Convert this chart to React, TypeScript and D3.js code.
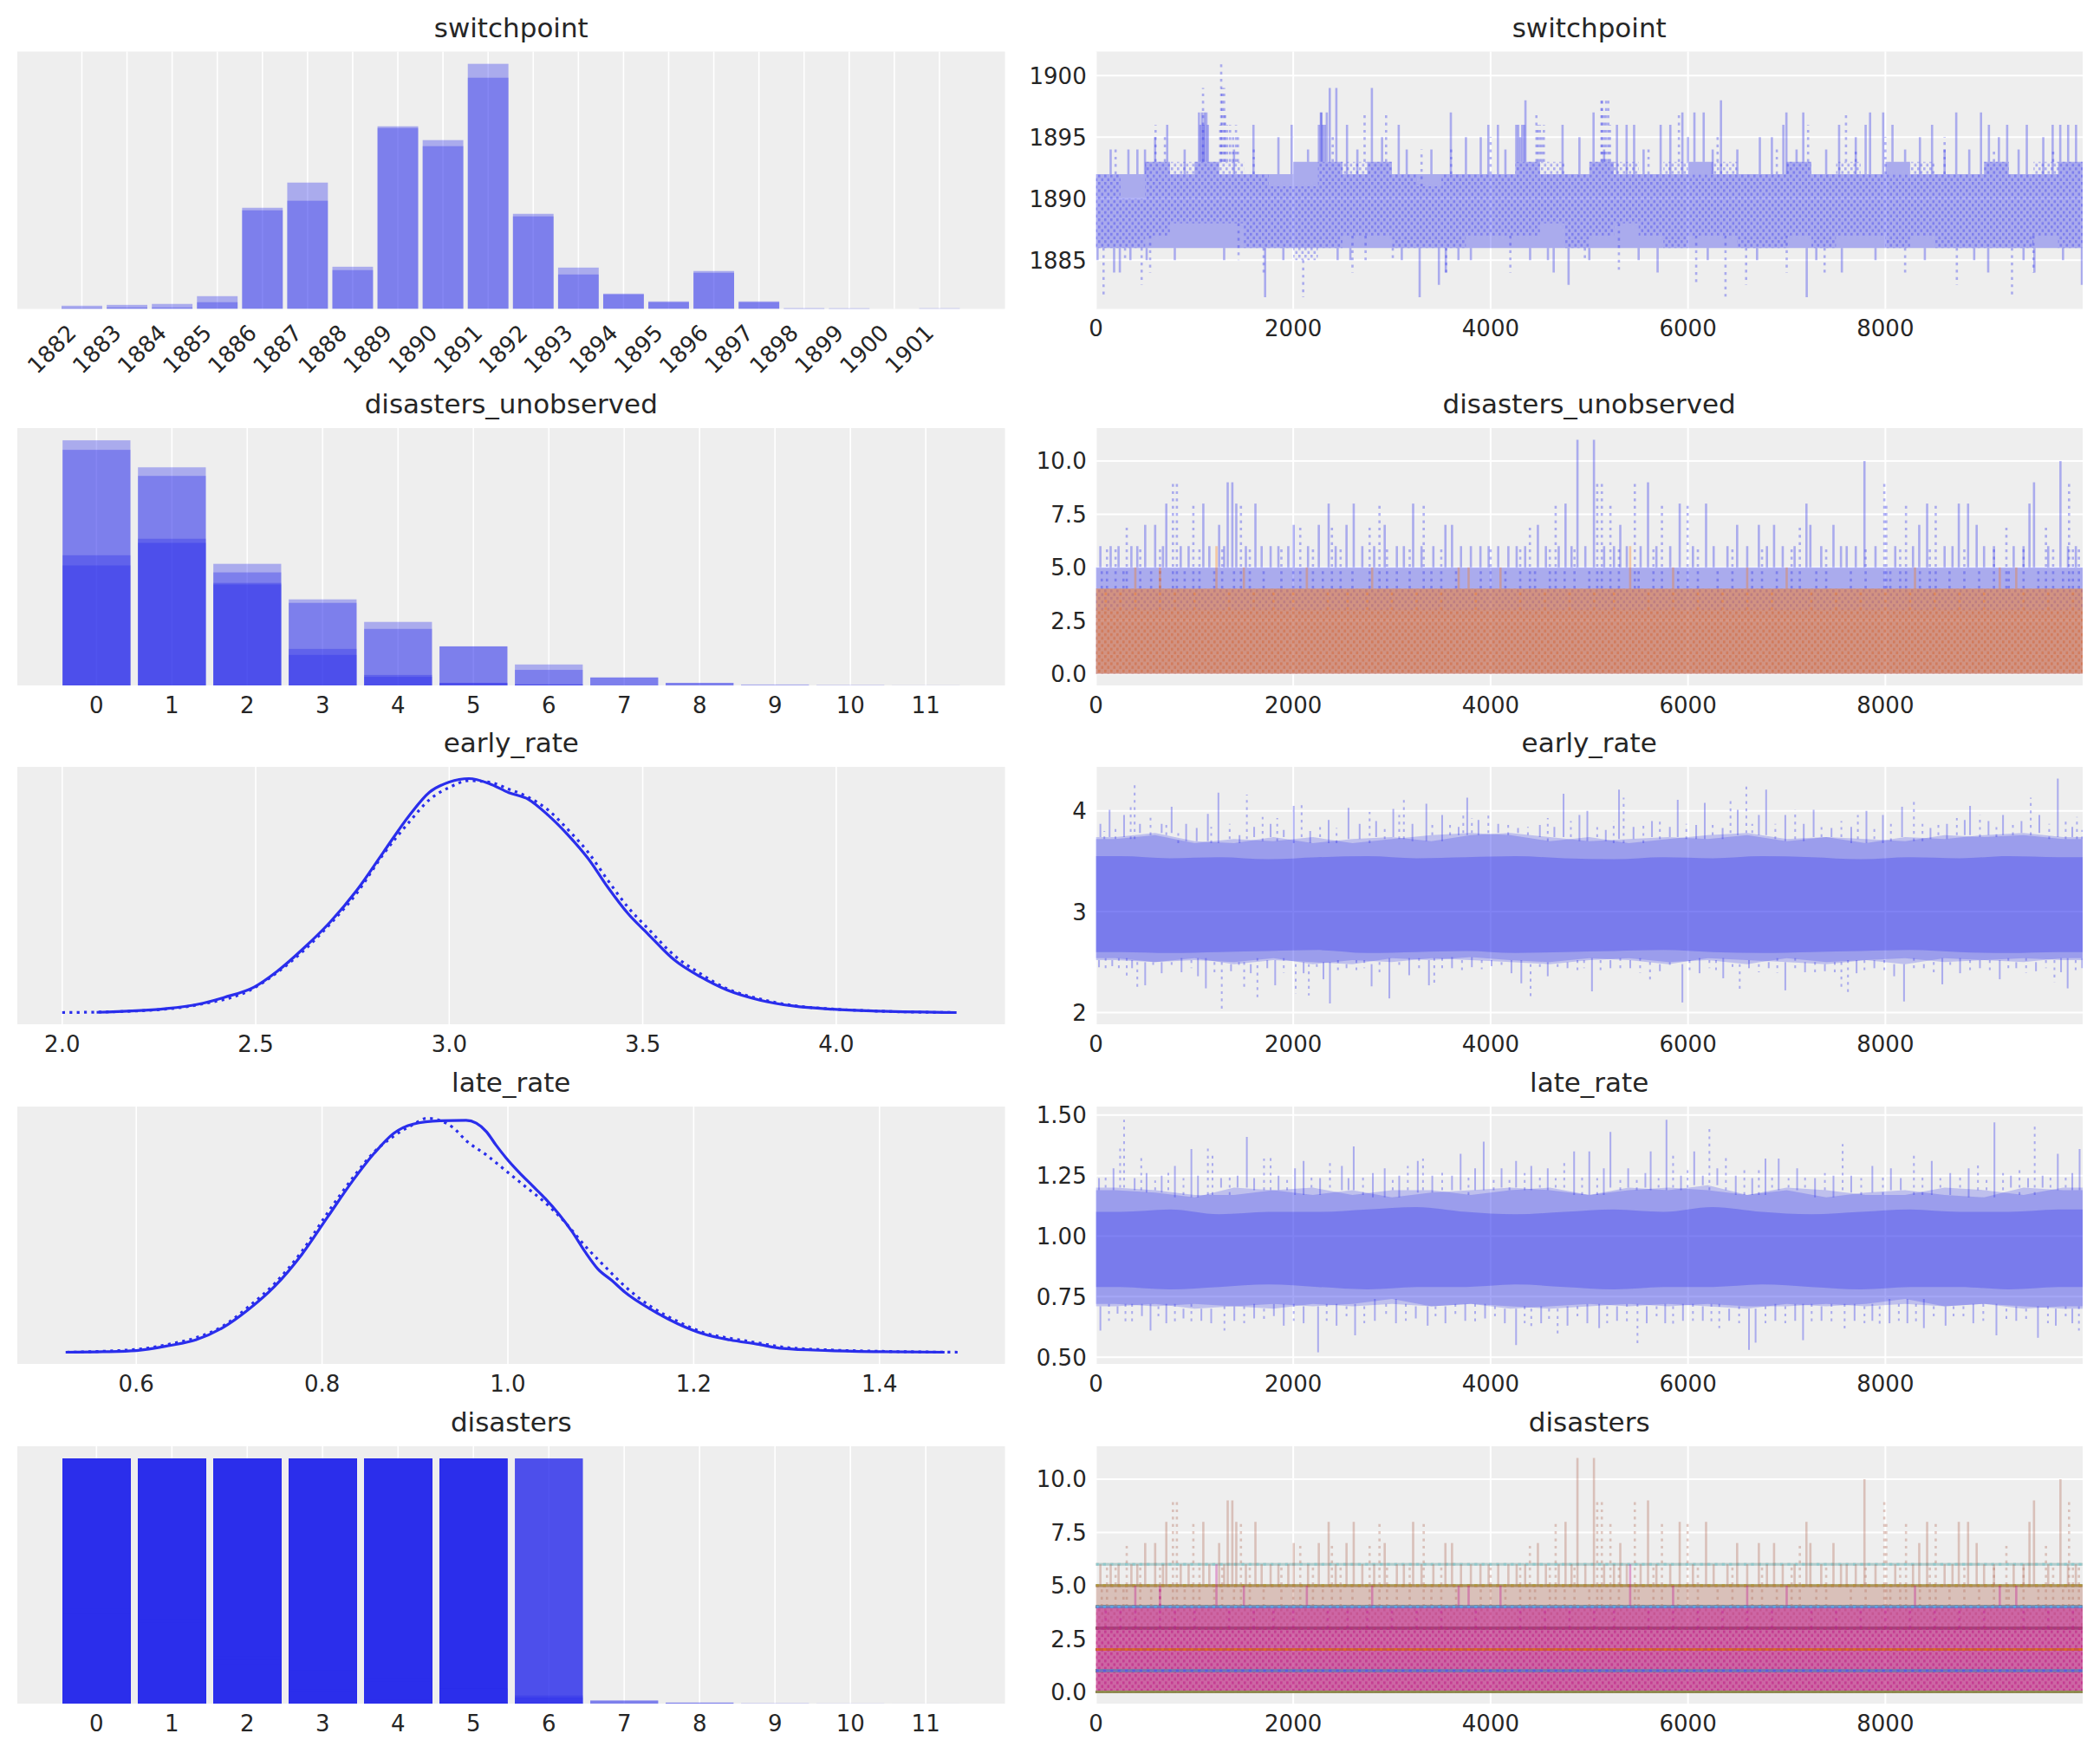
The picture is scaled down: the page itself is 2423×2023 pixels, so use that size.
import React from 'react';
import * as d3 from 'd3';

// ---------------- data ----------------
const drawsPerChain = 10000;

// switchpoint posterior, counts per year for the two chains
const switchpointYears = [1882, 1883, 1884, 1885, 1886, 1887, 1888, 1889, 1890, 1891, 1892, 1893, 1894, 1895, 1896, 1897, 1898, 1899, 1900, 1901];
const switchpointCountsA = [8, 14, 14, 120, 952, 1018, 365, 1719, 1532, 2307, 895, 389, 144, 63, 357, 71, 7, 6, 0, 0];
const switchpointCountsB = [30, 38, 47, 63, 928, 1189, 397, 1703, 1589, 2176, 871, 324, 136, 71, 340, 63, 4, 3, 0, 6];

// imputed disaster counts (years 1890 and 1934), counts per value 0..11
const countValues = [0, 1, 2, 3, 4, 5, 6, 7, 8, 9, 10, 11];
const unobs1890A = [2050, 2310, 1615, 1355, 1000, 615, 330, 125, 40, 15, 4, 2];
const unobs1890B = [1890, 2245, 1590, 1300, 890, 615, 245, 125, 40, 0, 2, 0];
const unobs1934A = [3860, 3435, 1915, 575, 165, 40, 15, 0, 0, 0, 0, 0];
const unobs1934B = [3710, 3300, 1780, 480, 135, 40, 15, 0, 0, 0, 0, 0];

// observed yearly disasters 1851-1961 (null = missing)
const disasters: (number | null)[] = [
  4, 5, 4, 0, 1, 4, 3, 4, 0, 6, 3, 3, 4, 0, 2, 6,
  3, 3, 5, 4, 5, 3, 1, 4, 4, 1, 5, 5, 3, 4, 2, 5,
  2, 2, 3, 4, 2, 1, 3, null, 2, 1, 1, 1, 1, 3, 0, 0,
  1, 0, 1, 1, 0, 0, 3, 1, 0, 3, 2, 2, 0, 1, 1, 1,
  0, 1, 0, 1, 0, 0, 0, 2, 1, 0, 0, 0, 1, 1, 0, 2,
  3, 3, 1, null, 2, 1, 1, 1, 1, 2, 4, 2, 0, 0, 1, 4,
  0, 0, 0, 1, 0, 0, 0, 0, 0, 1, 0, 0, 1, 0, 1,
];

// kernel density estimates [value, density]
const earlyKdeA: [number, number][] = [
  [2.089, 0.001], [2.265, 0.016], [2.35, 0.035], [2.419, 0.065], [2.496, 0.109], [2.556, 0.177], [2.624, 0.275],
  [2.692, 0.386], [2.761, 0.522], [2.829, 0.683], [2.897, 0.843], [2.949, 0.942], [3.0, 0.985], [3.051, 1.0],
  [3.103, 0.979], [3.154, 0.94], [3.205, 0.911], [3.256, 0.843], [3.308, 0.757], [3.359, 0.658], [3.41, 0.535],
  [3.462, 0.423], [3.513, 0.337], [3.581, 0.226], [3.65, 0.152], [3.718, 0.096], [3.803, 0.053], [3.889, 0.028],
  [3.991, 0.014], [4.111, 0.006], [4.311, 0.0],
];
const earlyKdeB: [number, number][] = [
  [2.0, 0.0], [2.18, 0.006], [2.35, 0.033], [2.496, 0.105], [2.556, 0.172], [2.624, 0.265], [2.692, 0.378],
  [2.761, 0.51], [2.829, 0.675], [2.897, 0.815], [2.949, 0.91], [3.0, 0.962], [3.051, 0.991], [3.103, 0.985],
  [3.154, 0.955], [3.205, 0.92], [3.256, 0.865], [3.308, 0.78], [3.359, 0.685], [3.41, 0.565], [3.462, 0.45],
  [3.513, 0.36], [3.581, 0.245], [3.65, 0.165], [3.718, 0.102], [3.803, 0.058], [3.889, 0.03], [3.991, 0.015],
  [4.111, 0.006], [4.3, 0.0],
];
const lateKdeA: [number, number][] = [
  [0.524, 0.0], [0.564, 0.002], [0.6, 0.007], [0.636, 0.029], [0.664, 0.053], [0.692, 0.103], [0.721, 0.184],
  [0.749, 0.283], [0.778, 0.419], [0.806, 0.581], [0.834, 0.742], [0.856, 0.854], [0.877, 0.94], [0.898, 0.98],
  [0.927, 0.994], [0.955, 0.996], [0.966, 0.984], [0.977, 0.947], [0.987, 0.891], [0.998, 0.835], [1.012, 0.773],
  [1.026, 0.717], [1.04, 0.661], [1.055, 0.593], [1.069, 0.519], [1.083, 0.432], [1.097, 0.357], [1.112, 0.308],
  [1.126, 0.258], [1.154, 0.184], [1.183, 0.122], [1.211, 0.078], [1.239, 0.053], [1.268, 0.035], [1.296, 0.016],
  [1.346, 0.007], [1.403, 0.002], [1.47, 0.0],
];
const lateKdeB: [number, number][] = [
  [0.525, 0.0], [0.6, 0.012], [0.636, 0.035], [0.664, 0.062], [0.692, 0.109], [0.721, 0.196], [0.749, 0.295],
  [0.778, 0.432], [0.806, 0.599], [0.834, 0.754], [0.856, 0.86], [0.877, 0.928], [0.898, 0.978], [0.913, 1.005],
  [0.927, 0.995], [0.941, 0.965], [0.955, 0.909], [0.977, 0.847], [0.998, 0.779], [1.019, 0.711], [1.04, 0.643],
  [1.062, 0.556], [1.083, 0.457], [1.104, 0.37], [1.126, 0.283], [1.154, 0.196], [1.183, 0.132], [1.211, 0.084],
  [1.239, 0.06], [1.268, 0.041], [1.296, 0.022], [1.346, 0.01], [1.403, 0.004], [1.485, 0.0],
];

// trace envelopes: per block of draws, the range a chain keeps returning to
const switchHiA = [1892, 1892, 1893, 1892, 1893, 1892, 1892, 1892, 1893, 1893, 1892, 1893, 1892, 1892, 1892, 1892, 1892, 1893, 1892, 1892, 1893, 1892, 1892, 1892, 1893, 1892, 1892, 1892, 1893, 1892, 1892, 1892, 1893, 1892, 1892, 1892, 1893, 1892, 1892, 1893];
const switchLoA = [1886, 1886, 1886, 1886, 1886, 1886, 1886, 1886, 1886, 1886, 1886, 1886, 1886, 1886, 1886, 1886, 1886, 1886, 1886, 1886, 1886, 1886, 1886, 1886, 1886, 1886, 1886, 1886, 1886, 1886, 1886, 1886, 1886, 1886, 1886, 1886, 1886, 1886, 1886, 1886];
const switchHiB = [1892, 1890, 1893, 1893, 1893, 1893, 1892, 1891, 1891, 1893, 1893, 1893, 1892, 1891, 1892, 1892, 1892, 1893, 1893, 1892, 1893, 1893, 1892, 1893, 1892, 1893, 1892, 1892, 1893, 1892, 1893, 1892, 1892, 1893, 1892, 1892, 1893, 1892, 1893, 1893];
const switchLoB = [1886, 1886, 1887, 1888, 1888, 1888, 1886, 1886, 1885, 1886, 1887, 1887, 1886, 1886, 1886, 1887, 1887, 1887, 1888, 1886, 1887, 1888, 1887, 1886, 1887, 1887, 1886, 1886, 1887, 1886, 1887, 1887, 1886, 1887, 1886, 1886, 1886, 1886, 1887, 1886];
// excursions outside the envelope: [draw, value]
const switchSpikesA: [number, number][] = [
  [17, 1885], [150, 1894], [185, 1884], [243, 1884], [330, 1894], [350, 1885], [421, 1894], [498, 1894], [515, 1885],
  [600, 1895], [723, 1896], [800, 1885], [900, 1894], [1045, 1897], [1060, 1896], [1075, 1897], [1090, 1896],
  [1100, 1897], [1120, 1897], [1135, 1896], [1300, 1885], [1400, 1894], [1597, 1896], [1715, 1882], [1850, 1895],
  [1900, 1885], [1984, 1896], [2150, 1894], [2260, 1896], [2280, 1897], [2286, 1897], [2300, 1896], [2320, 1896],
  [2340, 1897], [2370, 1899], [2437, 1899], [2450, 1885], [2545, 1896], [2579, 1885], [2650, 1894], [2797, 1899],
  [2900, 1895], [3069, 1896], [3100, 1885], [3150, 1894], [3281, 1882], [3400, 1894], [3476, 1883], [3546, 1884],
  [3597, 1897], [3674, 1885], [3750, 1895], [3800, 1885], [3900, 1895], [3977, 1896], [4074, 1896], [4150, 1894],
  [4260, 1896], [4280, 1896], [4300, 1895], [4320, 1896], [4340, 1896], [4353, 1898], [4400, 1885], [4581, 1885],
  [4639, 1884], [4729, 1896], [4790, 1883], [4900, 1895], [5000, 1885], [5043, 1897], [5150, 1894], [5280, 1896],
  [5378, 1896], [5454, 1896], [5500, 1885], [5550, 1894], [5692, 1884], [5723, 1896], [5821, 1896], [5943, 1897],
  [6000, 1895], [6065, 1897], [6159, 1897], [6200, 1885], [6250, 1894], [6334, 1898], [6500, 1894], [6700, 1885],
  [6728, 1895], [6850, 1895], [6966, 1896], [6997, 1897], [7100, 1894], [7168, 1897], [7203, 1882], [7300, 1885],
  [7400, 1894], [7531, 1896], [7559, 1884], [7700, 1895], [7800, 1896], [7845, 1897], [7900, 1885], [7978, 1897],
  [8072, 1896], [8200, 1894], [8350, 1895], [8400, 1885], [8473, 1896], [8600, 1894], [8718, 1897], [8850, 1894],
  [8900, 1885], [8969, 1897], [9042, 1884], [9049, 1896], [9150, 1895], [9234, 1896], [9350, 1894], [9400, 1885],
  [9433, 1896], [9510, 1884], [9600, 1895], [9695, 1896], [9772, 1896], [9800, 1885], [9852, 1896], [9932, 1896], [9991, 1883],
];
const switchSpikesB: [number, number][] = [
  [78, 1882], [200, 1894], [296, 1885], [464, 1883], [550, 1884], [605, 1896], [700, 1895], [1086, 1899],
  [1260, 1896], [1270, 1901], [1280, 1899], [1300, 1899], [1310, 1897], [1330, 1896], [1360, 1896], [1390, 1895],
  [1420, 1896], [1440, 1895], [1446, 1885], [1600, 1894], [1700, 1884], [2101, 1882], [2400, 1895], [2600, 1884],
  [2723, 1897], [2733, 1885], [2941, 1897], [3009, 1885], [3300, 1894], [3550, 1884], [3600, 1894], [4000, 1895],
  [4200, 1884], [4464, 1897], [4480, 1896], [4500, 1896], [4520, 1895], [4540, 1896], [4955, 1885], [5123, 1898],
  [5130, 1898], [5150, 1897], [5170, 1898], [5193, 1898], [5210, 1896], [5300, 1884], [5600, 1894], [5908, 1897],
  [6083, 1883], [6300, 1895], [6380, 1882], [6589, 1883], [6900, 1894], [7000, 1884], [7217, 1896], [7384, 1884],
  [7601, 1897], [7700, 1894], [8000, 1895], [8200, 1884], [8600, 1895], [8724, 1883], [9100, 1894], [9283, 1882],
  [9500, 1884], [9700, 1894],
];

const unobsLo = [0, 0, 0, 0, 0, 0, 0, 0, 0, 0, 0, 0, 0, 0, 0, 0, 0, 0, 0, 0, 0, 0, 0, 0, 0, 0, 0, 0, 0, 0, 0, 0, 0, 0, 0, 0, 0, 0, 0, 0];
const unobs1890HiA = [5, 5, 5, 5, 5, 5, 5, 5, 5, 5, 5, 5, 5, 5, 5, 5, 5, 5, 5, 5, 5, 5, 5, 5, 5, 5, 5, 5, 5, 5, 5, 5, 5, 5, 5, 5, 5, 5, 5, 5];
const unobs1890HiB = [4, 4, 4, 4, 4, 4, 4, 4, 4, 4, 4, 4, 4, 4, 4, 4, 4, 4, 4, 4, 4, 4, 4, 4, 4, 4, 4, 4, 4, 4, 4, 4, 4, 4, 4, 4, 4, 4, 4, 4];
const unobs1934HiA = [4, 4, 4, 4, 4, 4, 4, 4, 4, 4, 4, 4, 4, 4, 4, 4, 4, 4, 4, 4, 4, 4, 4, 4, 4, 4, 4, 4, 4, 4, 4, 4, 4, 4, 4, 4, 4, 4, 4, 4];
const unobs1934HiB = [3, 3, 3, 3, 3, 3, 3, 3, 3, 3, 3, 3, 3, 3, 3, 3, 3, 3, 3, 3, 3, 3, 3, 3, 3, 3, 3, 3, 3, 3, 3, 3, 3, 3, 3, 3, 3, 3, 3, 3];
const unobs1890SpikesA: [number, number][] = [
  [46, 6], [150, 6], [230, 6], [360, 6], [420, 6], [500, 7], [601, 7], [680, 6], [714, 8], [860, 6], [940, 6],
  [1089, 8], [1150, 6], [1249, 7], [1300, 6], [1336, 9], [1383, 9], [1423, 8], [1520, 6], [1617, 8], [1680, 6],
  [1771, 6], [1850, 6], [1950, 6], [2005, 7], [2150, 6], [2259, 7], [2359, 8], [2430, 6], [2540, 7], [2613, 8],
  [2700, 6], [2820, 6], [2927, 7], [3050, 6], [3121, 6], [3215, 8], [3300, 6], [3420, 6], [3542, 7], [3609, 7],
  [3700, 6], [3800, 6], [3897, 6], [3980, 6], [4077, 6], [4180, 6], [4264, 6], [4350, 6], [4479, 7], [4560, 6],
  [4690, 6], [4759, 8], [4820, 6], [4880, 11], [4960, 6], [5047, 11], [5150, 6], [5250, 6], [5314, 7], [5380, 6],
  [5520, 6], [5595, 9], [5680, 6], [5820, 6], [5916, 8], [6050, 6], [6183, 8], [6260, 6], [6400, 6], [6498, 7],
  [6600, 6], [6718, 7], [6800, 6], [6872, 7], [6960, 6], [7080, 6], [7200, 8], [7240, 7], [7350, 6], [7474, 7],
  [7550, 6], [7608, 6], [7700, 6], [7788, 10], [7900, 6], [8100, 6], [8280, 6], [8343, 7], [8423, 8], [8600, 6],
  [8680, 6], [8744, 8], [8838, 8], [8925, 7], [9000, 6], [9100, 6], [9300, 6], [9400, 6], [9460, 8], [9506, 9],
  [9650, 6], [9774, 10], [9850, 6], [9930, 6],
];
const unobs1890SpikesB: [number, number][] = [
  [60, 5], [113, 6], [200, 6], [280, 5], [313, 7], [450, 6], [560, 5], [650, 6], [781, 9], [821, 9], [900, 5],
  [988, 8], [1050, 6], [1200, 5], [1280, 6], [1400, 5], [1470, 8], [1560, 6], [1700, 5], [1880, 6], [2000, 5],
  [2071, 7], [2200, 6], [2300, 5], [2392, 7], [2480, 6], [2600, 5], [2774, 7], [2874, 8], [2950, 6], [3050, 5],
  [3180, 6], [3322, 8], [3400, 5], [3500, 6], [3650, 5], [3900, 5], [4000, 6], [4150, 5], [4300, 6], [4398, 7],
  [4450, 5], [4600, 6], [4659, 8], [4750, 5], [4850, 6], [5000, 5], [5080, 9], [5127, 9], [5214, 8], [5300, 6],
  [5461, 9], [5500, 5], [5650, 6], [5736, 8], [5900, 5], [5996, 8], [6100, 6], [6300, 5], [6450, 6], [6650, 5],
  [6750, 6], [6900, 5], [7050, 6], [7133, 7], [7300, 5], [7400, 6], [7650, 5], [7800, 6], [7989, 9], [8009, 8],
  [8050, 5], [8150, 6], [8209, 8], [8350, 5], [8450, 6], [8510, 8], [8650, 5], [8800, 6], [8950, 5], [9100, 6],
  [9226, 7], [9250, 5], [9400, 6], [9550, 5], [9627, 7], [9700, 6], [9800, 5], [9861, 9], [9900, 6], [9961, 6],
];
const unobs1934SpikesA: [number, number][] = [[400, 5], [650, 5], [1222, 6], [1500, 5], [2138, 5], [2800, 5], [3676, 5], [3777, 5], [4100, 5], [5414, 6], [5849, 5], [6600, 5], [7000, 5], [8300, 5], [9159, 5], [9326, 5]];
const unobs1934SpikesB: [number, number][] = [
  [100, 4], [250, 4], [400, 4], [650, 5], [800, 4], [1000, 4], [1350, 4], [1600, 4], [1800, 4],
  [2000, 4], [2350, 4], [2550, 4], [2750, 4], [3000, 4], [3250, 4], [3500, 4], [3850, 4],
  [4300, 4], [4550, 4], [4800, 4], [5050, 4], [5250, 4], [5600, 4], [5850, 4], [6100, 4],
  [6350, 4], [6600, 4], [6850, 4], [7250, 4], [7500, 4], [7750, 4], [8000, 4], [8250, 4], [8500, 4],
  [8750, 4], [9000, 4], [9400, 4], [9650, 4], [9900, 4],
];

const earlyCoreLo = [2.6, 2.59, 2.6, 2.61, 2.62, 2.59, 2.6, 2.61, 2.59, 2.6, 2.61, 2.62, 2.6, 2.59, 2.6, 2.61, 2.62, 2.6, 2.59, 2.6];
const earlyCoreHi = [3.55, 3.53, 3.54, 3.52, 3.54, 3.55, 3.53, 3.54, 3.55, 3.53, 3.52, 3.54, 3.53, 3.55, 3.54, 3.52, 3.54, 3.53, 3.55, 3.54];
const earlyEdgeHiA = [3.74, 3.78, 3.7, 3.68, 3.74, 3.68, 3.72, 3.74, 3.7, 3.76, 3.78, 3.74, 3.7, 3.72, 3.74, 3.72, 3.76, 3.7, 3.74, 3.68, 3.74, 3.72, 3.76, 3.78, 3.74];
const earlyEdgeLoA = [2.52, 2.5, 2.54, 2.48, 2.52, 2.5, 2.48, 2.54, 2.52, 2.55, 2.52, 2.5, 2.54, 2.52, 2.48, 2.54, 2.52, 2.5, 2.48, 2.52, 2.48, 2.54, 2.52, 2.5, 2.54];
const earlyEdgeHiB = [3.72, 3.76, 3.68, 3.72, 3.7, 3.74, 3.68, 3.72, 3.76, 3.78, 3.76, 3.7, 3.74, 3.68, 3.72, 3.76, 3.78, 3.72, 3.74, 3.72, 3.7, 3.76, 3.74, 3.76, 3.72];
const earlyEdgeLoB = [2.54, 2.5, 2.52, 2.5, 2.54, 2.48, 2.52, 2.5, 2.54, 2.52, 2.5, 2.48, 2.52, 2.54, 2.5, 2.52, 2.48, 2.54, 2.5, 2.52, 2.54, 2.5, 2.52, 2.54, 2.52];
const earlySpikesA: [number, number][] = [
  [46, 3.87], [139, 4.01], [286, 3.96], [447, 3.87], [667, 3.87], [768, 4.04], [915, 3.87], [1022, 3.83], [1135, 3.97],
  [1242, 4.18], [1456, 3.76], [1604, 3.84], [1771, 3.87], [1904, 3.81], [2005, 4.05], [2172, 3.8], [2359, 3.91],
  [2560, 4.03], [2673, 3.87], [2840, 3.9], [3014, 4.02], [3208, 3.87], [3349, 4.07], [3509, 3.96], [3676, 3.84],
  [3763, 4.13], [3877, 3.91], [4077, 3.87], [4278, 3.83], [4499, 3.86], [4646, 3.84], [4739, 4.17], [4900, 3.96],
  [4980, 4.0], [5167, 3.81], [5301, 4.21], [5448, 3.84], [5635, 3.9], [5816, 3.84], [5896, 4.11], [6083, 3.86],
  [6170, 4.08], [6351, 3.83], [6504, 4.01], [6718, 3.96], [6792, 4.21], [6986, 3.96], [7173, 3.87], [7273, 4.01],
  [7454, 3.83], [7654, 3.84], [7808, 4.0], [7975, 3.96], [8169, 4.04], [8457, 3.83], [8624, 3.87], [8804, 3.91],
  [8858, 4.05], [9045, 3.9], [9192, 3.96], [9379, 3.9], [9560, 3.96], [9747, 4.32], [9894, 3.84],
  [32, 2.45], [166, 2.46], [367, 2.44], [500, 2.27], [667, 2.39], [868, 2.4], [1035, 2.36], [1115, 2.24], [1370, 2.41],
  [1570, 2.39], [1737, 2.44], [1817, 2.27], [2105, 2.39], [2306, 2.33], [2372, 2.09], [2540, 2.44], [2794, 2.26],
  [2974, 2.14], [3175, 2.37], [3375, 2.27], [3609, 2.44], [3810, 2.45], [4010, 2.46], [4211, 2.39], [4311, 2.29],
  [4579, 2.36], [4779, 2.44], [5027, 2.21], [5214, 2.44], [5415, 2.44], [5715, 2.41], [5943, 2.1], [6117, 2.39],
  [6357, 2.34], [6618, 2.44], [6818, 2.44], [6986, 2.22], [7186, 2.4], [7387, 2.41], [7708, 2.39], [7888, 2.44],
  [8089, 2.36], [8189, 2.11], [8390, 2.44], [8577, 2.28], [8757, 2.39], [8958, 2.44], [9159, 2.33], [9326, 2.44],
  [9526, 2.41], [9780, 2.4], [9847, 2.24], [9994, 2.44],
];
const earlySpikesB: [number, number][] = [
  [86, 3.8], [199, 3.83], [353, 4.06], [393, 4.27], [554, 3.97], [714, 3.86], [835, 3.81], [1169, 3.84], [1356, 3.87],
  [1530, 4.16], [1690, 3.94], [1838, 3.93], [2085, 4.06], [2272, 3.84], [2439, 3.83], [2774, 3.99], [2927, 3.83],
  [3074, 3.96], [3121, 4.15], [3409, 3.87], [3589, 3.9], [3723, 3.99], [3810, 3.93], [3977, 3.99], [4178, 3.9],
  [4378, 3.84], [4579, 3.93], [4813, 3.9], [5080, 3.87], [5247, 3.9], [5348, 4.13], [5548, 3.87], [5715, 3.93],
  [5983, 3.87], [6250, 3.87], [6431, 4.14], [6591, 4.27], [6651, 3.87], [6885, 3.87], [7086, 4.01], [7353, 3.87],
  [7554, 3.9], [7721, 3.96], [7888, 3.86], [8056, 3.87], [8289, 4.12], [8376, 3.87], [8537, 3.9], [8724, 3.93],
  [8958, 3.96], [9125, 3.87], [9292, 3.87], [9473, 4.13], [9660, 3.87], [9827, 3.9], [9941, 3.94], [9994, 3.81],
  [99, 2.41], [233, 2.44], [313, 2.35], [420, 2.21], [581, 2.44], [768, 2.45], [968, 2.44], [1202, 2.39], [1276, 2.0],
  [1450, 2.45], [1503, 2.24], [1637, 2.11], [1904, 2.39], [2025, 2.19], [2158, 2.17], [2239, 2.44], [2453, 2.41],
  [2640, 2.39], [2720, 2.44], [2874, 2.39], [3074, 2.44], [3275, 2.41], [3429, 2.27], [3509, 2.41], [3710, 2.39],
  [3910, 2.43], [4111, 2.44], [4405, 2.16], [4499, 2.41], [4679, 2.41], [4880, 2.39], [4947, 2.44], [5114, 2.39],
  [5314, 2.4], [5515, 2.39], [5615, 2.29], [5816, 2.44], [6016, 2.41], [6217, 2.44], [6284, 2.39], [6451, 2.41],
  [6524, 2.23], [6718, 2.4], [6905, 2.39], [7086, 2.44], [7287, 2.39], [7487, 2.39], [7554, 2.23], [7621, 2.16],
  [7788, 2.41], [7989, 2.39], [8289, 2.4], [8490, 2.4], [8657, 2.44], [8858, 2.41], [9058, 2.39], [9246, 2.41],
  [9426, 2.39], [9627, 2.44], [9713, 2.3], [9928, 2.41],
];

const lateCoreLo = [0.79, 0.78, 0.79, 0.8, 0.79, 0.78, 0.79, 0.79, 0.8, 0.79, 0.78, 0.79, 0.79, 0.8, 0.79, 0.78, 0.79, 0.79, 0.78, 0.79];
const lateCoreHi = [1.1, 1.11, 1.09, 1.1, 1.1, 1.11, 1.12, 1.1, 1.09, 1.1, 1.11, 1.1, 1.12, 1.1, 1.09, 1.1, 1.11, 1.1, 1.1, 1.11];
const lateEdgeHiA = [1.19, 1.18, 1.16, 1.2, 1.19, 1.17, 1.19, 1.16, 1.18, 1.19, 1.2, 1.19, 1.17, 1.2, 1.19, 1.21, 1.17, 1.19, 1.16, 1.18, 1.19, 1.17, 1.16, 1.2, 1.19];
const lateEdgeLoA = [0.71, 0.72, 0.7, 0.71, 0.72, 0.71, 0.72, 0.74, 0.71, 0.72, 0.7, 0.71, 0.72, 0.71, 0.72, 0.71, 0.7, 0.72, 0.71, 0.72, 0.74, 0.71, 0.72, 0.71, 0.7];
const lateEdgeHiB = [1.2, 1.19, 1.17, 1.17, 1.19, 1.2, 1.17, 1.19, 1.19, 1.17, 1.19, 1.2, 1.17, 1.19, 1.2, 1.19, 1.17, 1.2, 1.19, 1.17, 1.17, 1.2, 1.19, 1.17, 1.2];
const lateEdgeLoB = [0.72, 0.71, 0.72, 0.71, 0.7, 0.72, 0.71, 0.72, 0.71, 0.72, 0.71, 0.7, 0.71, 0.72, 0.71, 0.72, 0.71, 0.71, 0.72, 0.71, 0.72, 0.71, 0.72, 0.7, 0.71];
const lateSpikesA: [number, number][] = [
  [32, 1.24], [179, 1.28], [393, 1.24], [514, 1.26], [667, 1.25], [801, 1.29], [968, 1.36], [1035, 1.25], [1269, 1.24],
  [1436, 1.25], [1530, 1.41], [1604, 1.24], [1851, 1.25], [2018, 1.28], [2105, 1.31], [2272, 1.24], [2493, 1.29],
  [2560, 1.24], [2613, 1.37], [2807, 1.26], [2927, 1.28], [3074, 1.25], [3262, 1.31], [3409, 1.25], [3609, 1.25],
  [3696, 1.34], [3843, 1.28], [3930, 1.39], [4111, 1.28], [4258, 1.31], [4412, 1.29], [4579, 1.28], [4846, 1.35],
  [5000, 1.35], [5147, 1.28], [5214, 1.43], [5394, 1.28], [5568, 1.26], [5622, 1.35], [5782, 1.48], [5929, 1.25],
  [6063, 1.35], [6150, 1.25], [6297, 1.28], [6484, 1.25], [6651, 1.24], [6785, 1.32], [6919, 1.32], [7106, 1.28],
  [7287, 1.24], [7474, 1.25], [7654, 1.25], [7868, 1.29], [8056, 1.28], [8156, 1.24], [8470, 1.31], [8657, 1.26],
  [8844, 1.28], [9105, 1.47], [9272, 1.25], [9446, 1.24], [9593, 1.25], [9747, 1.34], [9894, 1.26], [9968, 1.36],
  [46, 0.61], [220, 0.68], [467, 0.67], [554, 0.61], [714, 0.64], [888, 0.66], [1069, 0.65], [1169, 0.64], [1403, 0.65],
  [1604, 0.66], [1804, 0.67], [1904, 0.63], [2105, 0.64], [2252, 0.52], [2439, 0.63], [2627, 0.59], [2827, 0.65],
  [3041, 0.64], [3242, 0.66], [3362, 0.63], [3542, 0.64], [3743, 0.65], [3944, 0.66], [4144, 0.64], [4258, 0.55],
  [4512, 0.64], [4779, 0.63], [4980, 0.64], [5100, 0.62], [5281, 0.65], [5582, 0.64], [5769, 0.64], [5949, 0.65],
  [6150, 0.65], [6417, 0.65], [6618, 0.53], [6685, 0.56], [6885, 0.65], [7086, 0.65], [7166, 0.57], [7353, 0.65],
  [7688, 0.65], [7868, 0.65], [8042, 0.64], [8223, 0.64], [8390, 0.62], [8610, 0.63], [8891, 0.64], [9125, 0.59],
  [9326, 0.65], [9546, 0.58], [9727, 0.63], [9894, 0.64],
];
const lateSpikesB: [number, number][] = [
  [99, 1.25], [246, 1.38], [286, 1.48], [460, 1.33], [601, 1.23], [734, 1.28], [888, 1.24], [1135, 1.37], [1182, 1.34],
  [1356, 1.26], [1704, 1.32], [1771, 1.33], [1938, 1.24], [2185, 1.25], [2372, 1.31], [2707, 1.25], [3008, 1.24],
  [3161, 1.29], [3315, 1.32], [3509, 1.28], [3776, 1.25], [4031, 1.25], [4191, 1.24], [4345, 1.26], [4499, 1.25],
  [4659, 1.24], [4746, 1.31], [4927, 1.25], [5080, 1.24], [5314, 1.25], [5481, 1.24], [5702, 1.24], [5849, 1.35],
  [5996, 1.28], [6217, 1.46], [6384, 1.33], [6571, 1.29], [6718, 1.28], [6852, 1.25], [7019, 1.24], [7186, 1.25],
  [7387, 1.26], [7567, 1.38], [7755, 1.24], [7975, 1.25], [8289, 1.34], [8376, 1.25], [8557, 1.24], [8757, 1.25],
  [8938, 1.31], [9025, 1.25], [9192, 1.26], [9359, 1.28], [9513, 1.47], [9673, 1.26], [9827, 1.25],
  [133, 0.65], [300, 0.64], [367, 0.64], [634, 0.65], [801, 0.63], [968, 0.64], [1303, 0.61], [1503, 0.64],
  [1704, 0.65], [2005, 0.65], [2339, 0.65], [2540, 0.66], [2720, 0.64], [2941, 0.66], [3141, 0.65], [3442, 0.65],
  [3643, 0.66], [3843, 0.64], [4044, 0.65], [4345, 0.64], [4412, 0.62], [4592, 0.65], [4679, 0.58], [4880, 0.65],
  [5181, 0.64], [5381, 0.64], [5488, 0.55], [5682, 0.65], [5849, 0.62], [6050, 0.65], [6237, 0.64], [6317, 0.62],
  [6518, 0.64], [6785, 0.64], [6986, 0.64], [7253, 0.64], [7454, 0.64], [7587, 0.61], [7788, 0.64], [7942, 0.62],
  [8136, 0.65], [8310, 0.64], [8490, 0.65], [8691, 0.65], [8791, 0.65], [8992, 0.65], [9226, 0.64], [9426, 0.64],
  [9647, 0.64], [9827, 0.65], [9961, 0.61],
];

// ---------------- style / layout ----------------
const FONT = "'DejaVu Sans', 'Noto Sans', sans-serif";
const INK = '#262626';
const FACE = '#eeeeee';
const GRID = '#ffffff';
const BLUE = '#2a2eec';
const PALETTE = ['#2a2eec', '#fa7c17', '#328c06', '#c10c90', '#933708', '#65e5f3', '#e6e135', '#1ccd6a', '#bd8ad5', '#b16b57'];
const CHAIN_ALPHA = 0.35;
const DOTS = '3.2 5.2';
const TICK_SIZE = 26;
const TITLE_SIZE = 31;
const LINE_W = 2.6;

const LEFT: [number, number] = [20, 1159.5];
const RIGHT: [number, number] = [1264.4, 2403];
const ROW_TOPS = [59.5, 494, 885, 1277, 1669];
const ROW_H = 297;

const drawX = d3.scaleLinear().domain([0, drawsPerChain - 1]).range(RIGHT);

type Scale = (v: number) => number;

function Panel(props: {
  clip: string; xr: [number, number]; yr: [number, number]; title: string;
  x: Scale; xTicks: number[]; xFmt: (v: number) => string;
  y?: Scale; yTicks?: number[]; yFmt?: (v: number) => string;
  slanted?: boolean; grid: number; children?: React.ReactNode;
}) {
  const { clip, xr, yr, title, x, xTicks, xFmt, y, yTicks, yFmt, slanted, grid, children } = props;
  const [x0, x1] = xr;
  const [y0, y1] = yr;
  return (
    <g>
      <clipPath id={clip}><rect x={x0} y={y0} width={x1 - x0} height={y1 - y0} /></clipPath>
      <rect x={x0} y={y0} width={x1 - x0} height={y1 - y0} fill={FACE} />
      {xTicks.map(t => (
        <line key={'gx' + t} x1={x(t)} x2={x(t)} y1={y0} y2={y1} stroke={GRID} strokeWidth={grid} />
      ))}
      {y && yTicks && yTicks.map(t => (
        <line key={'gy' + t} x1={x0} x2={x1} y1={y(t)} y2={y(t)} stroke={GRID} strokeWidth={grid} />
      ))}
      <g clipPath={`url(#${clip})`}>{children}</g>
      {xTicks.map(t => slanted ? (
        <text key={'tx' + t} transform={`translate(${x(t) - 5},${y1 + 29.4}) rotate(-45)`} textAnchor="end">{xFmt(t)}</text>
      ) : (
        <text key={'tx' + t} x={x(t)} y={y1 + 31.7} textAnchor="middle">{xFmt(t)}</text>
      ))}
      {y && yTicks && yFmt && yTicks.map(t => (
        <text key={'ty' + t} x={x0 - 10.7} y={y(t) + 9.4} textAnchor="end">{yFmt(t)}</text>
      ))}
      <text x={(x0 + x1) / 2} y={y0 - 17} textAnchor="middle" fontSize={TITLE_SIZE}>{title}</text>
    </g>
  );
}

// overlaid histograms, one translucent layer per chain
function Bars({ layers, values, x, y }: { layers: number[][]; values: number[]; x: Scale; y: Scale }) {
  return (
    <g>
      {layers.map((counts, li) => counts.map((c, i) => c > 0 ? (
        <rect key={li + '-' + i} x={x(values[i] - 0.45)} width={x(values[i] + 0.45) - x(values[i] - 0.45)}
          y={y(c)} height={y(0) - y(c)} fill={BLUE} fillOpacity={CHAIN_ALPHA} />
      ) : null))}
    </g>
  );
}

function Kde({ pts, x, y, dotted }: { pts: [number, number][]; x: Scale; y: Scale; dotted?: boolean }) {
  const line = d3.line<[number, number]>().x(p => x(p[0])).y(p => y(p[1])).curve(d3.curveMonotoneX);
  return <path d={line(pts) || ''} fill="none" stroke={BLUE} strokeWidth={3.2} strokeDasharray={dotted ? DOTS : undefined} />;
}

type Pt = { d: number; lo: number; hi: number };

function Spikes({ lo, hi, spikes, y, color, dotted, width }: {
  lo: number[]; hi: number[]; spikes: [number, number][]; y: Scale; color: string; dotted?: boolean; width: number;
}) {
  const bin = drawsPerChain / hi.length;
  return (
    <g>
      {spikes.map(([d, v], k) => {
        const i = Math.min(hi.length - 1, Math.floor(d / bin));
        if (v <= hi[i] && v >= lo[i]) return null;
        const from = v > hi[i] ? hi[i] : lo[i];
        return (
          <line key={k} x1={drawX(d)} x2={drawX(d)} y1={y(from)} y2={y(v)} stroke={color} strokeOpacity={CHAIN_ALPHA}
            strokeWidth={width} strokeDasharray={dotted ? DOTS : undefined} />
        );
      })}
    </g>
  );
}

// integer-valued chain: stepped envelope plus excursions
function StepTrace({ lo, hi, spikes, y, color, dotted, pattern, density = CHAIN_ALPHA }: {
  lo: number[]; hi: number[]; spikes: [number, number][]; y: Scale; color: string; dotted?: boolean; pattern: string; density?: number;
}) {
  const bin = drawsPerChain / hi.length;
  const pts: Pt[] = hi.map((h, i) => ({ d: i * bin, lo: lo[i], hi: h }));
  pts.push({ ...pts[pts.length - 1], d: drawsPerChain - 1 });
  const area = d3.area<Pt>().x(p => drawX(p.d)).y0(p => y(p.lo)).y1(p => y(p.hi)).curve(d3.curveStepAfter);
  return (
    <g>
      <path d={area(pts) || ''} fill={dotted ? `url(#${pattern})` : color} fillOpacity={dotted ? 1 : density} />
      <Spikes lo={lo} hi={hi} spikes={spikes} y={y} color={color} dotted={dotted} width={LINE_W} />
    </g>
  );
}

function smoothPts(lo: number[], hi: number[]) {
  const bin = drawsPerChain / hi.length;
  const mid: Pt[] = hi.map((h, i) => ({ d: (i + 0.5) * bin, lo: lo[i], hi: h }));
  return [{ ...mid[0], d: 0 }, ...mid, { ...mid[mid.length - 1], d: drawsPerChain - 1 }];
}

// continuous chain: outer envelope plus excursions
function SmoothTrace({ lo, hi, spikes, y, dotted }: {
  lo: number[]; hi: number[]; spikes: [number, number][]; y: Scale; dotted?: boolean;
}) {
  const area = d3.area<Pt>().x(p => drawX(p.d)).y0(p => y(p.lo)).y1(p => y(p.hi));
  return (
    <g>
      <path d={area(smoothPts(lo, hi)) || ''} fill={BLUE} fillOpacity={0.24} />
      <Spikes lo={lo} hi={hi} spikes={spikes} y={y} color={BLUE} dotted={dotted} width={2} />
    </g>
  );
}

function Core({ lo, hi, y }: { lo: number[]; hi: number[]; y: Scale }) {
  const area = d3.area<Pt>().x(p => drawX(p.d)).y0(p => y(p.lo)).y1(p => y(p.hi)).curve(d3.curveMonotoneX);
  return <path d={area(smoothPts(lo, hi)) || ''} fill={BLUE} fillOpacity={0.3} />;
}

// the 1934 chains sit on a narrow range, so their band is far denser
const imputed = [
  { hiA: unobs1890HiA, hiB: unobs1890HiB, spikesA: unobs1890SpikesA, spikesB: unobs1890SpikesB, countsA: unobs1890A, countsB: unobs1890B, density: 0.35 },
  { hiA: unobs1934HiA, hiB: unobs1934HiB, spikesA: unobs1934SpikesA, spikesB: unobs1934SpikesB, countsA: unobs1934A, countsB: unobs1934B, density: 0.5 },
];

export default function App() {
  const rows = ROW_TOPS.map(t => [t, t + ROW_H] as [number, number]);
  const yr = (r: number): [number, number] => [rows[r][1], rows[r][0]];
  const f1 = d3.format('.1f');
  const f2 = d3.format('.2f');
  const plain = (v: number) => String(v);

  // switchpoint
  const swX = d3.scaleLinear().domain([1880.57, 1902.45]).range(LEFT);
  const swMax = d3.max([...switchpointCountsA, ...switchpointCountsB]) as number;
  const swY = d3.scaleLinear().domain([0, swMax * 1.05]).range(yr(0));
  const swTY = d3.scaleLinear().domain([1881.05, 1901.95]).range(yr(0));

  // disasters_unobserved
  const cntX = d3.scaleLinear().domain([-1.05, 12.05]).range(LEFT);
  const unMax = d3.max([...unobs1890A, ...unobs1890B, ...unobs1934A, ...unobs1934B]) as number;
  const unY = d3.scaleLinear().domain([0, unMax * 1.05]).range(yr(1));
  const unTY = d3.scaleLinear().domain([-0.55, 11.55]).range(yr(1));

  // early_rate
  const erDom: [number, number] = [1.884, 4.436];
  const erX = d3.scaleLinear().domain(erDom).range(LEFT);
  const erMax = d3.max([...earlyKdeA, ...earlyKdeB], p => p[1]) as number;
  const erY = d3.scaleLinear().domain([-0.05 * erMax, 1.05 * erMax]).range(yr(2));
  const erTY = d3.scaleLinear().domain(erDom).range(yr(2));

  // late_rate
  const lrDom: [number, number] = [0.472, 1.535];
  const lrX = d3.scaleLinear().domain(lrDom).range(LEFT);
  const lrMax = d3.max([...lateKdeA, ...lateKdeB], p => p[1]) as number;
  const lrY = d3.scaleLinear().domain([-0.05 * lrMax, 1.05 * lrMax]).range(yr(3));
  const lrTY = d3.scaleLinear().domain(lrDom).range(yr(3));

  // disasters
  const dsY = d3.scaleLinear().domain([0, drawsPerChain * 1.05]).range(yr(4));
  const dsTY = d3.scaleLinear().domain([-0.55, 11.55]).range(yr(4));

  const disasterLayers: number[][] = [];
  let m = 0;
  disasters.forEach(v => {
    if (v === null) {
      const s = imputed[m++];
      disasterLayers.push(s.countsA, s.countsB);
    } else {
      const c = countValues.map(k => (k === v ? drawsPerChain : 0));
      disasterLayers.push(c, c);
    }
  });

  let mm = 0;
  const disasterTraces = disasters.map((v, i) => {
    const color = PALETTE[i % 10];
    if (v === null) {
      const s = imputed[mm++];
      return (
        <g key={i}>
          <StepTrace lo={unobsLo} hi={s.hiA} spikes={s.spikesA} y={dsTY} color={color} pattern={`dots${i % 10}`} density={s.density} />
          <StepTrace lo={unobsLo} hi={s.hiB} spikes={s.spikesB} y={dsTY} color={color} dotted pattern={`dots${i % 10}`} />
        </g>
      );
    }
    return (
      <g key={i}>
        <line x1={RIGHT[0]} x2={RIGHT[1]} y1={dsTY(v)} y2={dsTY(v)} stroke={color} strokeOpacity={CHAIN_ALPHA} strokeWidth={3} />
        <line x1={RIGHT[0]} x2={RIGHT[1]} y1={dsTY(v)} y2={dsTY(v)} stroke={color} strokeOpacity={CHAIN_ALPHA} strokeWidth={3} strokeDasharray={DOTS} />
      </g>
    );
  });

  const xDraws = [0, 2000, 4000, 6000, 8000];

  return (
    <svg width={2423} height={2023} style={{ position: 'absolute', left: 0, top: 0, background: '#fff' }}
      fontFamily={FONT} fontSize={TICK_SIZE} fill={INK}>
      <defs>
        {[0, 1, 3, 9].map(k => (
          <pattern key={k} id={`dots${k}`} width={7} height={8.4} patternUnits="userSpaceOnUse">
            <rect x={0} y={0} width={2.6} height={3.2} fill={PALETTE[k]} fillOpacity={CHAIN_ALPHA} />
            <rect x={3.5} y={4.2} width={2.6} height={3.2} fill={PALETTE[k]} fillOpacity={CHAIN_ALPHA} />
          </pattern>
        ))}
      </defs>

      {/* row 1: switchpoint */}
      <Panel clip="c0l" xr={LEFT} yr={rows[0]} title="switchpoint" x={swX} xTicks={switchpointYears} xFmt={plain} slanted grid={1.6}>
        <Bars layers={[switchpointCountsA, switchpointCountsB]} values={switchpointYears} x={swX} y={swY} />
      </Panel>
      <Panel clip="c0r" xr={RIGHT} yr={rows[0]} title="switchpoint" x={drawX} xTicks={xDraws} xFmt={plain}
        y={swTY} yTicks={[1885, 1890, 1895, 1900]} yFmt={plain} grid={2}>
        <StepTrace lo={switchLoA} hi={switchHiA} spikes={switchSpikesA} y={swTY} color={BLUE} pattern="dots0" />
        <StepTrace lo={switchLoB} hi={switchHiB} spikes={switchSpikesB} y={swTY} color={BLUE} dotted pattern="dots0" />
      </Panel>

      {/* row 2: disasters_unobserved */}
      <Panel clip="c1l" xr={LEFT} yr={rows[1]} title="disasters_unobserved" x={cntX} xTicks={countValues} xFmt={plain} grid={1.6}>
        <Bars layers={[unobs1890A, unobs1890B, unobs1934A, unobs1934B]} values={countValues} x={cntX} y={unY} />
      </Panel>
      <Panel clip="c1r" xr={RIGHT} yr={rows[1]} title="disasters_unobserved" x={drawX} xTicks={xDraws} xFmt={plain}
        y={unTY} yTicks={[0, 2.5, 5, 7.5, 10]} yFmt={f1} grid={2}>
        {imputed.map((s, k) => (
          <g key={k}>
            <StepTrace lo={unobsLo} hi={s.hiA} spikes={s.spikesA} y={unTY} color={PALETTE[k]} pattern={`dots${k}`} density={s.density} />
            <StepTrace lo={unobsLo} hi={s.hiB} spikes={s.spikesB} y={unTY} color={PALETTE[k]} dotted pattern={`dots${k}`} />
          </g>
        ))}
      </Panel>

      {/* row 3: early_rate */}
      <Panel clip="c2l" xr={LEFT} yr={rows[2]} title="early_rate" x={erX} xTicks={[2, 2.5, 3, 3.5, 4]} xFmt={f1} grid={1.6}>
        <Kde pts={earlyKdeA} x={erX} y={erY} />
        <Kde pts={earlyKdeB} x={erX} y={erY} dotted />
      </Panel>
      <Panel clip="c2r" xr={RIGHT} yr={rows[2]} title="early_rate" x={drawX} xTicks={xDraws} xFmt={plain}
        y={erTY} yTicks={[2, 3, 4]} yFmt={plain} grid={2}>
        <SmoothTrace lo={earlyEdgeLoA} hi={earlyEdgeHiA} spikes={earlySpikesA} y={erTY} />
        <SmoothTrace lo={earlyEdgeLoB} hi={earlyEdgeHiB} spikes={earlySpikesB} y={erTY} dotted />
        <Core lo={earlyCoreLo} hi={earlyCoreHi} y={erTY} />
      </Panel>

      {/* row 4: late_rate */}
      <Panel clip="c3l" xr={LEFT} yr={rows[3]} title="late_rate" x={lrX} xTicks={[0.6, 0.8, 1.0, 1.2, 1.4]} xFmt={f1} grid={1.6}>
        <Kde pts={lateKdeA} x={lrX} y={lrY} />
        <Kde pts={lateKdeB} x={lrX} y={lrY} dotted />
      </Panel>
      <Panel clip="c3r" xr={RIGHT} yr={rows[3]} title="late_rate" x={drawX} xTicks={xDraws} xFmt={plain}
        y={lrTY} yTicks={[0.5, 0.75, 1.0, 1.25, 1.5]} yFmt={f2} grid={2}>
        <SmoothTrace lo={lateEdgeLoA} hi={lateEdgeHiA} spikes={lateSpikesA} y={lrTY} />
        <SmoothTrace lo={lateEdgeLoB} hi={lateEdgeHiB} spikes={lateSpikesB} y={lrTY} dotted />
        <Core lo={lateCoreLo} hi={lateCoreHi} y={lrTY} />
      </Panel>

      {/* row 5: disasters */}
      <Panel clip="c4l" xr={LEFT} yr={rows[4]} title="disasters" x={cntX} xTicks={countValues} xFmt={plain} grid={1.6}>
        <Bars layers={disasterLayers} values={countValues} x={cntX} y={dsY} />
      </Panel>
      <Panel clip="c4r" xr={RIGHT} yr={rows[4]} title="disasters" x={drawX} xTicks={xDraws} xFmt={plain}
        y={dsTY} yTicks={[0, 2.5, 5, 7.5, 10]} yFmt={f1} grid={2}>
        {disasterTraces}
      </Panel>
    </svg>
  );
}
